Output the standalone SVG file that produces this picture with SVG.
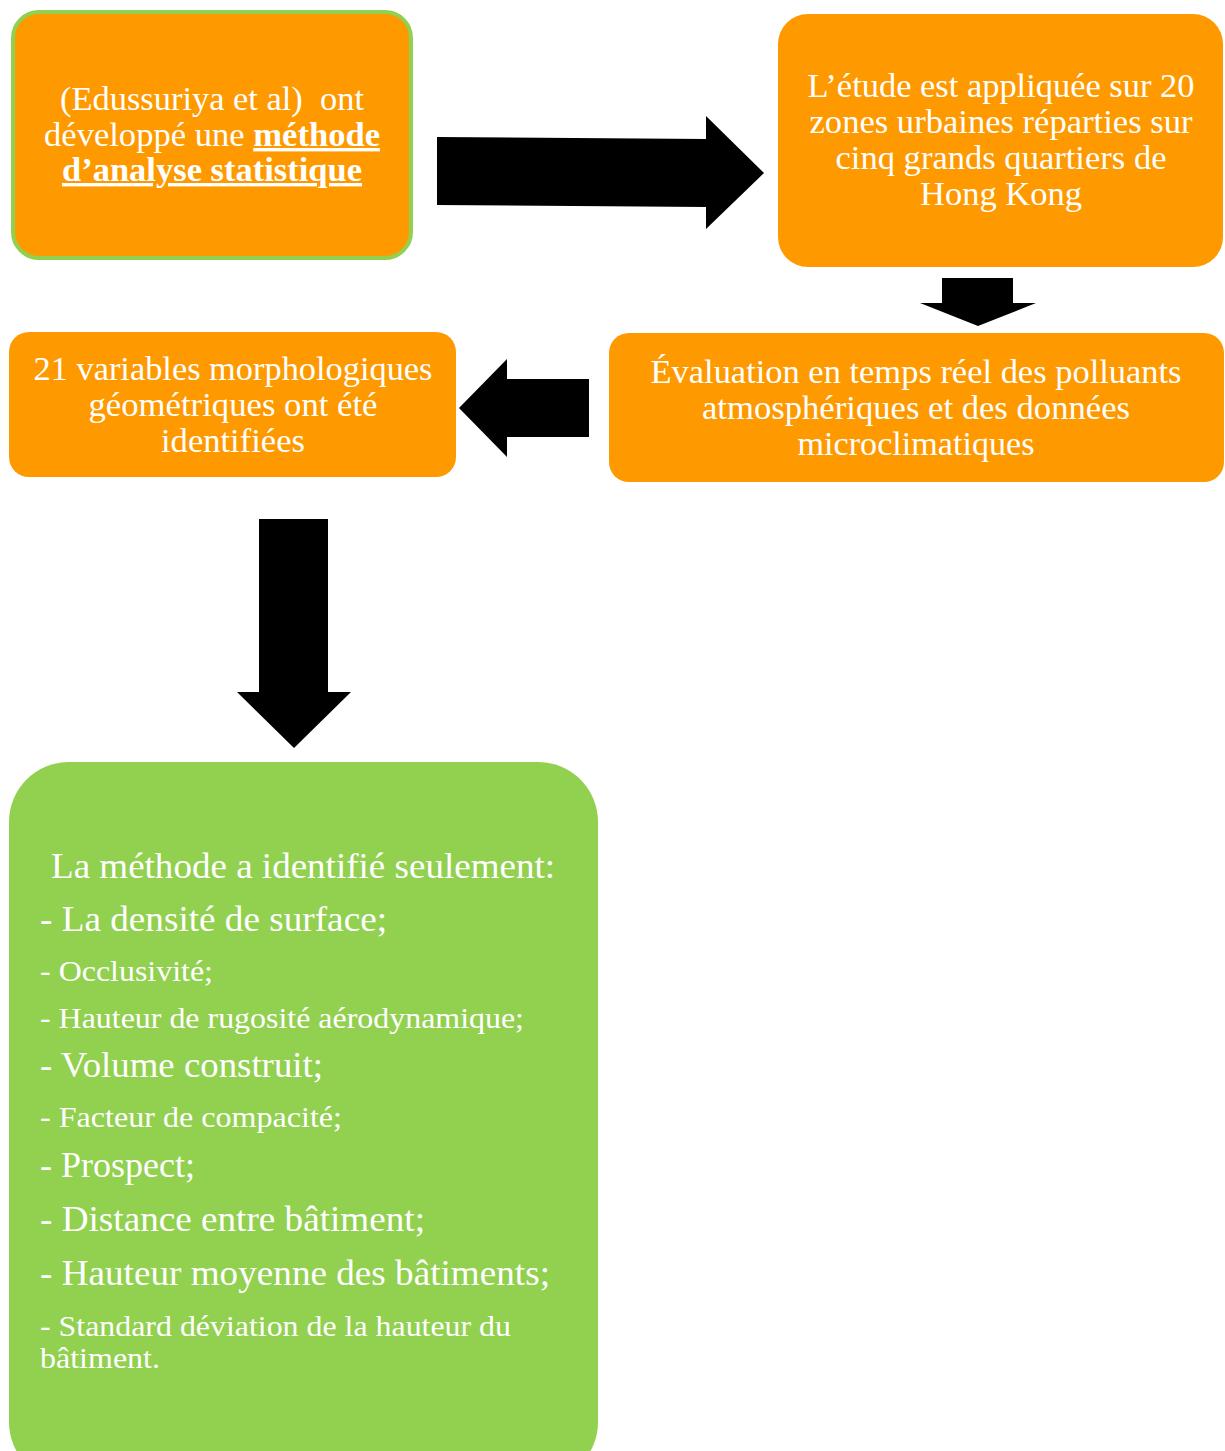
<svg xmlns="http://www.w3.org/2000/svg" width="1225" height="1451" viewBox="0 0 1225 1451">
<style>
.box{fill:#FF9900}
.gbox{fill:#92D050}
.t{font-family:'Liberation Serif','Times New Roman',serif;fill:#FFFFFF;font-size:34px;white-space:pre}
.c{text-anchor:middle}
.big{font-size:36px}
.sm{font-size:30px}
.b{font-weight:bold;text-decoration:underline}
.arr{fill:#000000}
</style>
<rect width="1225" height="1451" fill="#FFFFFF"/>
<g id="connectors">
<polygon class="arr" points="437,137 706,139 706,116 764,173 706,229 706,207 437,205"/>
<polygon class="arr" points="942,278 1013,278 1013,303 1036,303 978,326 920,303 942,303"/>
<polygon class="arr" points="589,379 507,379 507,359 459,408 507,457 507,437 589,437"/>
<polygon class="arr" points="259,519 328,519 328,692 351,692 294,748 237,692 259,692"/>
</g>
<g id="node1">
<rect x="13" y="12" width="398" height="246" rx="26" class="box" stroke="#92D050" stroke-width="4"/>
<text class="t c" x="212" y="110" textLength="304" lengthAdjust="spacingAndGlyphs" xml:space="preserve">(Edussuriya et al)  ont</text>
<text class="t" x="44" y="146" textLength="336" lengthAdjust="spacingAndGlyphs">développé une <tspan class="b">méthode</tspan></text>
<text class="t c b" x="212" y="181" textLength="300" lengthAdjust="spacingAndGlyphs">d’analyse statistique</text>
</g>
<g id="node2">
<rect x="778" y="14" width="445" height="253" rx="30" class="box"/>
<text class="t c" x="1001" y="97" textLength="387" lengthAdjust="spacingAndGlyphs">L’étude est appliquée sur 20</text>
<text class="t c" x="1001" y="133" textLength="383" lengthAdjust="spacingAndGlyphs">zones urbaines réparties sur</text>
<text class="t c" x="1001" y="169" textLength="331" lengthAdjust="spacingAndGlyphs">cinq grands quartiers de</text>
<text class="t c" x="1001" y="205" textLength="162" lengthAdjust="spacingAndGlyphs">Hong Kong</text>
</g>
<g id="node3">
<rect x="609" y="333" width="615" height="149" rx="20" class="box"/>
<text class="t c" x="916" y="383" textLength="531" lengthAdjust="spacingAndGlyphs">Évaluation en temps réel des polluants</text>
<text class="t c" x="916" y="419" textLength="428" lengthAdjust="spacingAndGlyphs">atmosphériques et des données</text>
<text class="t c" x="916" y="455" textLength="237" lengthAdjust="spacingAndGlyphs">microclimatiques</text>
</g>
<g id="node4">
<rect x="9" y="332" width="447" height="145" rx="20" class="box"/>
<text class="t c" x="233" y="380" textLength="399" lengthAdjust="spacingAndGlyphs">21 variables morphologiques</text>
<text class="t c" x="233" y="416" textLength="289" lengthAdjust="spacingAndGlyphs">géométriques ont été</text>
<text class="t c" x="233" y="452" textLength="144" lengthAdjust="spacingAndGlyphs">identifiées</text>
</g>
<g id="node5">
<rect x="9" y="762" width="589" height="720" rx="60" class="gbox"/>
<text class="t big" x="51" y="878" textLength="504" lengthAdjust="spacingAndGlyphs">La méthode a identifié seulement:</text>
<text class="t big" x="40" y="931" textLength="347" lengthAdjust="spacingAndGlyphs">- La densité de surface;</text>
<text class="t sm" x="40" y="981" textLength="173" lengthAdjust="spacingAndGlyphs">- Occlusivité;</text>
<text class="t sm" x="40" y="1028" textLength="484" lengthAdjust="spacingAndGlyphs">- Hauteur de rugosité aérodynamique;</text>
<text class="t big" x="40" y="1077" textLength="283" lengthAdjust="spacingAndGlyphs">- Volume construit;</text>
<text class="t sm" x="40" y="1127" textLength="302" lengthAdjust="spacingAndGlyphs">- Facteur de compacité;</text>
<text class="t big" x="40" y="1177" textLength="155" lengthAdjust="spacingAndGlyphs">- Prospect;</text>
<text class="t big" x="40" y="1231" textLength="385" lengthAdjust="spacingAndGlyphs">- Distance entre bâtiment;</text>
<text class="t big" x="40" y="1285" textLength="510" lengthAdjust="spacingAndGlyphs">- Hauteur moyenne des bâtiments;</text>
<text class="t sm" x="40" y="1336" textLength="471" lengthAdjust="spacingAndGlyphs">- Standard déviation de la hauteur du</text>
<text class="t sm" x="40" y="1368" textLength="120" lengthAdjust="spacingAndGlyphs">bâtiment.</text>
</g>
</svg>
